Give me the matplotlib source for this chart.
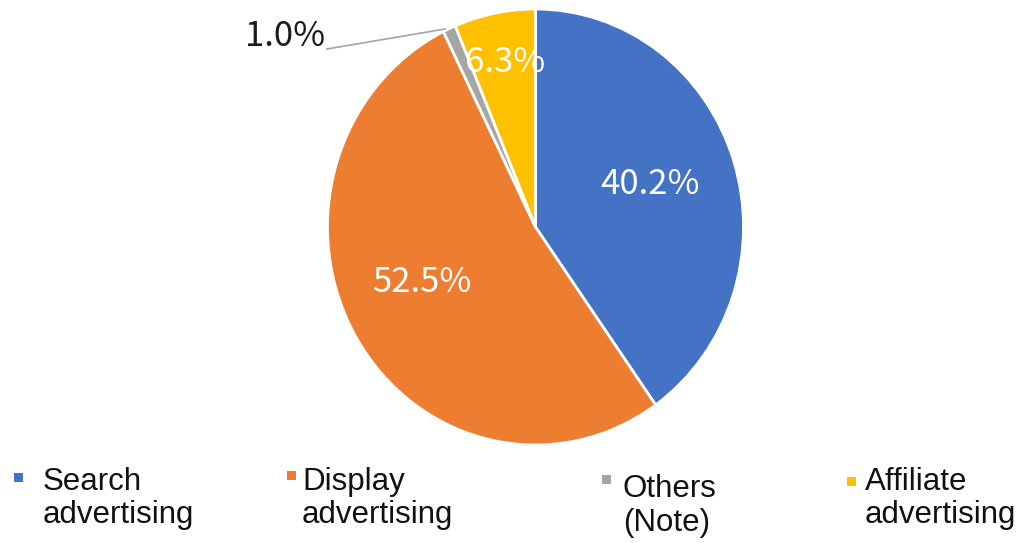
import matplotlib
matplotlib.use("Agg")
import matplotlib.pyplot as plt
from matplotlib.patches import Rectangle

# Share of internet advertising spend by type
categories = ["Search\nadvertising", "Display\nadvertising", "Others\n(Note)", "Affiliate\nadvertising"]
shares = [40.2, 52.5, 1.0, 6.3]
colors = ["#4472C4", "#ED7D31", "#A5A5A5", "#FFC000"]

W, H = 1031, 543
fig = plt.figure(figsize=(W / 100, H / 100), dpi=100)
fig.patch.set_facecolor("white")

# pie area (pixel geometry of the ellipse)
cx, cy, rx, ry = 535.5, 227.0, 208.0, 218.0
ax = fig.add_axes([(cx - rx) / W, (H - cy - ry) / H, 2 * rx / W, 2 * ry / H])
ax.pie(shares, colors=colors, startangle=90, counterclock=False,
       wedgeprops=dict(edgecolor="white", linewidth=2))
ax.set_aspect("auto")
ax.set_xlim(-1, 1)
ax.set_ylim(-1, 1)
ax.axis("off")

def px2data(px, py):
    return (px - cx) / rx, (cy - py) / ry

pct_font = ["Noto Sans CJK JP", "DejaVu Sans"]
label_pos = [(650, 185), (422, 283), (285, 37), (505, 62)]
label_col = ["white", "white", "#1a1a1a", "white"]
for val, (px, py), col in zip(shares, label_pos, label_col):
    x, y = px2data(px, py)
    ax.text(x, y, f"{val:.1f}%", color=col, fontsize=25, family=pct_font,
            ha="center", va="center", clip_on=False)

# leader line for the small slice
x0, y0 = px2data(327, 49)
x1, y1 = px2data(445, 29)
ax.plot([x0, x1], [y0, y1], color="#A6A6A6", lw=1.2, clip_on=False)

# legend
leg = [
    # marker x, marker y (center), text x, baseline 1, baseline 2
    (18, 477, 43, 490, 523),
    (291, 475, 302, 490, 523),
    (606, 479, 623, 497, 531),
    (851, 481, 865, 490, 523),
]
for name, col, (mx, my, tx, b1, b2) in zip(categories, colors, leg):
    s = 9
    fig.patches.append(Rectangle(((mx - s / 2) / W, (H - my - s / 2) / H), s / W, s / H,
                                 transform=fig.transFigure, facecolor=col,
                                 edgecolor="none", figure=fig))
    l1, l2 = name.split("\n")
    fig.text(tx / W, (H - b1) / H, l1, fontsize=22.5, family="Liberation Sans",
             color="#111111", ha="left", va="baseline")
    fig.text(tx / W, (H - b2) / H, l2, fontsize=22.5, family="Liberation Sans",
             color="#111111", ha="left", va="baseline")

fig.savefig("out.png", dpi=100, facecolor="white")
